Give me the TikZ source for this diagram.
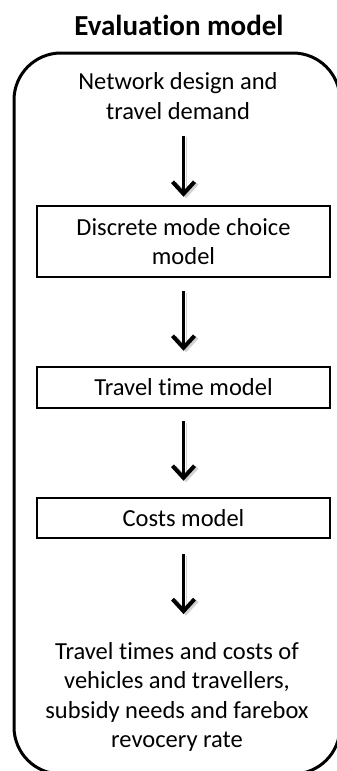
\documentclass[tikz,border=0pt]{standalone}
\usepackage{fontspec}
\setmainfont[Ligatures={NoCommon,NoRequired,NoContextual}]{Carlito}
\usetikzlibrary{arrows.meta}
\begin{document}
\begin{tikzpicture}[x=1pt,y=-1pt,
  txt/.style={align=center, inner sep=0pt, font=\fontsize{24.5}{29.5}\selectfont},
  stage/.style={txt, draw, line width=2.5pt, minimum width=293pt},
  flow/.style={line width=3.8pt,
    -{Straight Barb[length=12pt,width=22pt,line width=4pt]},
    preaction={draw=black!40, opacity=.45,
      transform canvas={shift={(2.5pt,-1.5pt)}}}},
  frame/.style={line width=3pt, rounded corners=47pt}]

\useasboundingbox (0,0) rectangle (337,771);

% outer frame of the evaluation model
\begin{scope}
  \clip (0,0) rectangle (337,771);
  \draw[frame] (14,53) rectangle (340,774);
\end{scope}

% title
\node[font=\fontsize{29}{34}\selectfont\bfseries] (title) at (179,25) {Evaluation model};

% inputs, model stages and outputs
\node[txt] (input) at (178,96) {Network design and\\travel demand};
\node[stage, minimum height=71pt] (mode) at (183.5,241.5) {Discrete mode choice\\model};
\node[stage, minimum height=41pt] (time) at (183.5,387.5) {Travel time model};
\node[stage, minimum height=40pt] (cost) at (183.5,518) {Costs model};
\node[txt] (output) at (177,697) {Travel times and costs of\\vehicles and travellers,\\subsidy needs and farebox\\revocery rate};

% flow arrows
\draw[flow, shorten <=16pt, shorten >=8pt] (input.south -| mode.north) -- (mode.north);
\draw[flow, shorten <=13pt, shorten >=15pt] (mode.south) -- (time.north);
\draw[flow, shorten <=12pt, shorten >=16pt] (time.south) -- (cost.north);
\draw[flow, shorten <=15pt, shorten >=28pt] (cost.south) -- (output.north -| cost.south);
\end{tikzpicture}
\end{document}
